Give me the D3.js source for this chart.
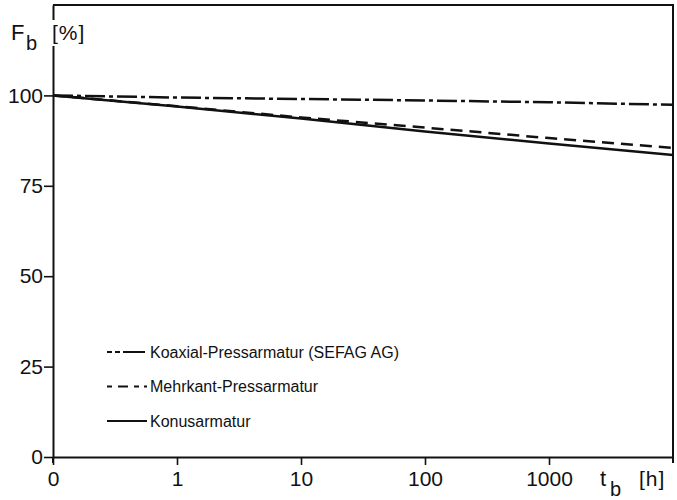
<!DOCTYPE html>
<html>
<head>
<meta charset="utf-8">
<script src="https://cdn.jsdelivr.net/npm/d3@7"></script>
<style>
  body { margin: 0; background: #fff; }
  svg { display: block; }
  text { font-family: "Liberation Sans", Arial, sans-serif; fill: #111; }
</style>
</head>
<body>
<svg id="chart"></svg>
<script>
// time in hours, drawn on a decade axis (0 sits one decade left of 1)
var hours = [0, 1, 10, 100, 1000, 10000];
var xTickValues = [0, 1, 10, 100, 1000];
var yTickValues = [0, 25, 50, 75, 100];

var konus = [100, 96.9, 93.6, 90.0, 86.7, 83.5];
var mehrkant = [100, 97.0, 93.9, 91.1, 88.2, 85.5];
var koaxial = [100, 99.4, 99.0, 98.6, 98.1, 97.4];

var seriesNames = ["Koaxial-Pressarmatur (SEFAG AG)", "Mehrkant-Pressarmatur", "Konusarmatur"];
var seriesDash = ["20,4,4,4", "12,7", null];
var seriesValues = [koaxial, mehrkant, konus];

var width = 677;
var height = 500;

function decade(h) { return h === 0 ? 0 : 1 + Math.log10(h); }

var xScale = d3.scaleLinear()
               .domain([0, 5])
               .range([53, 673]);

var yScale = d3.scaleLinear()
               .domain([0, 125])
               .range([457, 5]);

var svg = d3.select("#chart")
    .attr("width", width)
    .attr("height", height);

// frame: top and right border
svg.append("path")
    .attr("d", "M" + xScale(0) + "," + yScale(125) + "H" + xScale(5) + "V" + (yScale(0) + 6))
    .attr("fill", "none")
    .attr("stroke", "#111")
    .attr("stroke-width", 2);

var xAxis = d3.axisBottom(xScale)
              .tickValues(xTickValues.map(decade))
              .tickFormat(function(d, i) { return xTickValues[i]; })
              .tickSize(8)
              .tickPadding(6)
              .tickSizeOuter(0);

var yAxis = d3.axisLeft(yScale)
              .tickValues(yTickValues)
              .tickSize(9)
              .tickPadding(1)
              .tickSizeOuter(0);

var gx = svg.append("g")
    .attr("transform", "translate(0," + yScale(0) + ")")
    .call(xAxis);

var gy = svg.append("g")
    .attr("transform", "translate(" + xScale(0) + ",0)")
    .call(yAxis);

[gx, gy].forEach(function(g) {
  g.select(".domain").attr("stroke", "#111").attr("stroke-width", 2);
  g.selectAll(".tick line").attr("stroke", "#111").attr("stroke-width", 1.6);
  g.selectAll(".tick text")
      .style("font-family", "'Liberation Sans', Arial, sans-serif")
      .style("font-size", "21px")
      .attr("fill", "#111");
});

// axes cross a little below / left of the origin
svg.append("line")
    .attr("x1", xScale(0)).attr("x2", xScale(0))
    .attr("y1", yScale(0)).attr("y2", yScale(0) + 6)
    .attr("stroke", "#111").attr("stroke-width", 2);

// data lines
var line = d3.line()
    .x(function(d, i) { return xScale(decade(hours[i])); })
    .y(function(d) { return yScale(d); });

seriesValues.forEach(function(vals, i) {
  svg.append("path")
      .datum(vals)
      .attr("d", line)
      .attr("fill", "none")
      .attr("stroke", "#111")
      .attr("stroke-width", 2.5)
      .attr("stroke-dasharray", seriesDash[i]);
});

// legend
var legend = svg.append("g")
    .selectAll("g")
    .data(seriesNames)
    .join("g")
    .attr("transform", function(d, i) { return "translate(107," + (352 + i * 34.5) + ")"; });

legend.append("line")
    .attr("x1", 0).attr("x2", 40)
    .attr("stroke", "#111")
    .attr("stroke-width", 2)
    .attr("stroke-dasharray", function(d, i) {
      return i === 0 ? "5,3,5,3,22" : i === 1 ? "5,6,10,6,5" : null;
    });

legend.append("text")
    .attr("x", 43)
    .attr("dy", "0.35em")
    .style("font-size", "16px")
    .text(function(d) { return d; });

// y axis title
var yTitle = svg.append("g");
yTitle.append("rect")
    .attr("x", 48).attr("y", 20)
    .attr("width", 44).attr("height", 26)
    .attr("fill", "#fff");
yTitle.append("text")
    .attr("x", 11).attr("y", 40)
    .style("font-size", "22px")
    .text("F");
yTitle.append("text")
    .attr("x", 26).attr("y", 50)
    .style("font-size", "20px")
    .text("b");
yTitle.append("text")
    .attr("x", 52).attr("y", 40)
    .style("font-size", "21px")
    .style("letter-spacing", "1px")
    .text("[%]");

// x axis title
var xTitle = svg.append("g");
xTitle.append("text")
    .attr("x", 600).attr("y", 486)
    .style("font-size", "22px")
    .text("t");
xTitle.append("text")
    .attr("x", 610).attr("y", 496)
    .style("font-size", "20px")
    .text("b");
xTitle.append("text")
    .attr("x", 639).attr("y", 486)
    .style("font-size", "21px")
    .style("letter-spacing", "1px")
    .text("[h]");
</script>
</body>
</html>
